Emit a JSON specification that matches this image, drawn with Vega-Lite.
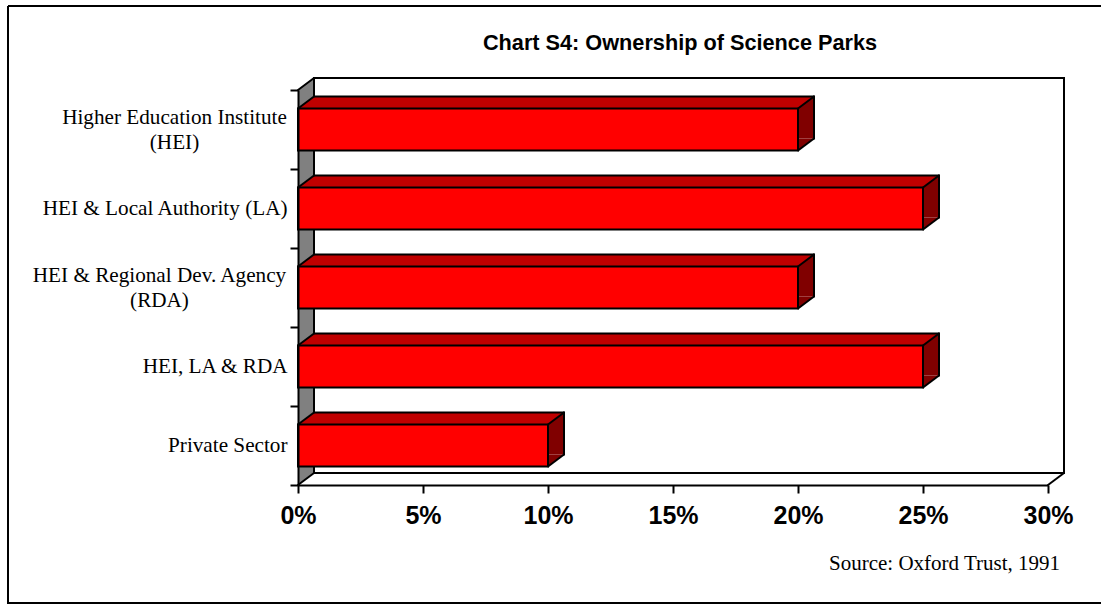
{
  "$schema": "https://vega.github.io/schema/vega-lite/v6.json",
  "width": 1093,
  "height": 597,
  "autosize": {"type": "none"},
  "padding": {"left": 8, "top": 6, "right": 0, "bottom": 3},
  "background": "white",
  "config": {
    "view": {"stroke": "black", "strokeWidth": 2, "strokeDash": [1093, 597, 1690, 0], "fill": "white"},
    "axis": {"grid": false}
  },
  "data": {
    "values": [
      {"owner": "Higher Education Institute (HEI)", "share": 20},
      {"owner": "HEI & Local Authority (LA)", "share": 25},
      {"owner": "HEI & Regional Dev. Agency (RDA)", "share": 20},
      {"owner": "HEI, LA & RDA", "share": 25},
      {"owner": "Private Sector", "share": 10}
    ]
  },
  "resolve": {"scale": {"y": "independent"}},
  "layer": [
    {
      "data": {"values": [{}]},
      "layer": [
        {
          "mark": {"type": "rect", "fill": "white", "stroke": "black", "strokeWidth": 2, "opacity": 1,
                   "xOffset": 16, "x2Offset": 16, "yOffset": -12, "y2Offset": -12},
          "encoding": {
            "x": {
              "datum": 0,
              "type": "quantitative",
              "scale": {"domain": [0, 30], "range": [290, 1040], "nice": false, "zero": false},
              "axis": {
                "orient": "bottom",
                "offset": -118,
                "zindex": 1,
                "values": [0, 5, 10, 15, 20, 25, 30],
                "labelExpr": "datum.value + '%'",
                "domainColor": "black",
                "domainWidth": 2,
                "tickColor": "black",
                "tickWidth": 2,
                "tickSize": 8,
                "labelFont": "Liberation Sans",
                "labelFontSize": 25,
                "labelFontWeight": "bold",
                "labelColor": "black",
                "labelPadding": 10,
                "labelFlush": false,
                "labelOverlap": false,
                "title": null
              }
            },
            "x2": {"datum": 30},
            "y": {"datum": 0, "type": "quantitative", "scale": {"domain": [0, 1], "range": [479, 84], "nice": false, "zero": false}, "axis": null},
            "y2": {"datum": 1}
          }
        },
        {
          "mark": {"type": "rect", "fill": "#808080", "strokeWidth": 0, "opacity": 1, "x2Offset": 15, "y2Offset": -12},
          "encoding": {
            "x": {"datum": 0, "type": "quantitative"},
            "x2": {"datum": 0},
            "y": {"datum": 0, "type": "quantitative", "axis": null},
            "y2": {"datum": 1}
          }
        },
        {
          "mark": {"type": "point", "shape": "M -1 0.75 L -1 -0.75 L 1 -0.75 Z", "size": 256, "filled": true,
                   "fill": "white", "strokeWidth": 0, "opacity": 1, "xOffset": 8, "yOffset": -6},
          "encoding": {
            "x": {"datum": 0, "type": "quantitative"},
            "y": {"datum": 1, "type": "quantitative", "axis": null}
          }
        },
        {
          "mark": {"type": "point", "shape": "M -1 0.75 L 1 -0.75 L 1 0.75 Z", "size": 256, "filled": true,
                   "fill": "white", "strokeWidth": 0, "opacity": 1, "xOffset": 8, "yOffset": -6},
          "encoding": {
            "x": {"datum": 0, "type": "quantitative"},
            "y": {"datum": 0, "type": "quantitative", "axis": null}
          }
        },
        {
          "mark": {"type": "rule", "color": "black", "strokeWidth": 2, "strokeCap": "round", "opacity": 1, "x2Offset": 16, "y2Offset": -12},
          "encoding": {
            "x": {"datum": 0, "type": "quantitative"},
            "x2": {"datum": 0},
            "y": {"datum": 1, "type": "quantitative", "axis": null},
            "y2": {"datum": 1}
          }
        },
        {
          "mark": {"type": "rule", "color": "black", "strokeWidth": 2, "strokeCap": "round", "opacity": 1, "x2Offset": 16, "y2Offset": -12},
          "encoding": {
            "x": {"datum": 0, "type": "quantitative"},
            "x2": {"datum": 0},
            "y": {"datum": 0, "type": "quantitative", "axis": null},
            "y2": {"datum": 0}
          }
        },
        {
          "mark": {"type": "rule", "color": "black", "strokeWidth": 2, "strokeCap": "round", "opacity": 1, "x2Offset": 16, "y2Offset": -12},
          "encoding": {
            "x": {"datum": 30, "type": "quantitative"},
            "x2": {"datum": 30},
            "y": {"datum": 0, "type": "quantitative", "axis": null},
            "y2": {"datum": 0}
          }
        },
        {
          "mark": {"type": "text", "font": "Liberation Sans", "fontSize": 21.7, "fontWeight": "bold", "color": "black",
                   "align": "center", "baseline": "alphabetic", "xOffset": 7, "yOffset": -40},
          "encoding": {
            "x": {"datum": 15, "type": "quantitative"},
            "y": {"datum": 1, "type": "quantitative", "axis": null},
            "text": {"value": "Chart S4: Ownership of Science Parks"}
          }
        },
        {
          "mark": {"type": "text", "font": "Liberation Serif", "fontSize": 21, "color": "black",
                   "align": "right", "baseline": "alphabetic", "xOffset": 12, "yOffset": 85},
          "encoding": {
            "x": {"datum": 30, "type": "quantitative"},
            "y": {"datum": 0, "type": "quantitative", "axis": null},
            "text": {"value": "Source: Oxford Trust, 1991"}
          }
        }
      ]
    },
    {
      "encoding": {
        "y": {
          "field": "owner",
          "type": "nominal",
          "sort": null,
          "scale": {"type": "band", "range": [84, 479], "paddingInner": 0, "paddingOuter": 0},
          "axis": {
            "orient": "left",
            "offset": -290,
            "zindex": 1,
            "title": null,
            "domainColor": "black",
            "domainWidth": 2,
            "tickColor": "black",
            "tickWidth": 2,
            "tickSize": 8,
            "tickBand": "extent",
            "labelFont": "Liberation Serif",
            "labelFontSize": 21.2,
            "labelColor": "black",
            "labelLimit": 400,
            "labelLineHeight": 25,
            "labelOverlap": false,
            "labelExpr": "datum.value === 'Higher Education Institute (HEI)' ? ['Higher Education Institute', '(HEI)'] : datum.value === 'HEI & Regional Dev. Agency (RDA)' ? ['HEI & Regional Dev. Agency', '(RDA)'] : datum.label",
            "labelAlign": {
              "condition": {"test": "datum.value === 'Higher Education Institute (HEI)' || datum.value === 'HEI & Regional Dev. Agency (RDA)'", "value": "center"},
              "value": "right"
            },
            "labelPadding": {
              "condition": [
                {"test": "datum.value === 'Higher Education Institute (HEI)'", "value": 116},
                {"test": "datum.value === 'HEI & Regional Dev. Agency (RDA)'", "value": 131}
              ],
              "value": 3
            },
            "labelOffset": {
              "condition": {"test": "datum.value === 'Higher Education Institute (HEI)' || datum.value === 'HEI & Regional Dev. Agency (RDA)'", "value": -12.5},
              "value": 0
            }
          }
        }
      },
      "layer": [
        {
          "mark": {"type": "bar", "color": "#c00000", "opacity": 1, "height": 12, "yOffset": -27, "xOffset": 1, "x2Offset": 15},
          "encoding": {
            "x": {"field": "share", "type": "quantitative"},
            "x2": {"datum": 0}
          }
        },
        {
          "mark": {"type": "bar", "color": "#800000", "opacity": 1, "height": 42, "yOffset": -12, "x2Offset": 16},
          "encoding": {
            "x": {"field": "share", "type": "quantitative"},
            "x2": {"field": "share"}
          }
        },
        {
          "mark": {"type": "point", "shape": "M -1 0.75 L 1 -0.75 L 1 0.75 Z", "size": 256, "filled": true,
                   "fill": "#c00000", "strokeWidth": 0, "opacity": 1, "xOffset": 8, "yOffset": -27},
          "encoding": {
            "x": {"datum": 0, "type": "quantitative"}
          }
        },
        {
          "mark": {"type": "point", "shape": "M -1 0.75 L -1 -0.75 L 1 -0.75 Z", "size": 256, "filled": true,
                   "fill": "#c00000", "strokeWidth": 0, "opacity": 1, "xOffset": 8, "yOffset": -27},
          "encoding": {
            "x": {"field": "share", "type": "quantitative"}
          }
        },
        {
          "mark": {"type": "point", "shape": "M -1 0.75 L -1 -0.75 L 1 -0.75 Z", "size": 256, "filled": true,
                   "fill": "#800000", "strokeWidth": 0, "opacity": 1, "xOffset": 8, "yOffset": 15},
          "encoding": {
            "x": {"field": "share", "type": "quantitative"}
          }
        },
        {
          "mark": {"type": "bar", "color": "#ff0000", "opacity": 1, "height": 42, "stroke": "black", "strokeWidth": 2},
          "encoding": {
            "x": {"field": "share", "type": "quantitative"},
            "x2": {"datum": 0}
          }
        },
        {
          "mark": {"type": "rule", "color": "black", "strokeWidth": 2, "strokeCap": "round", "opacity": 1, "xOffset": 16, "x2Offset": 16, "yOffset": -33},
          "encoding": {
            "x": {"field": "share", "type": "quantitative"},
            "x2": {"datum": 0}
          }
        },
        {
          "mark": {"type": "rule", "color": "black", "strokeWidth": 2, "strokeCap": "round", "opacity": 1, "x2Offset": 16, "yOffset": -21, "y2Offset": -33},
          "encoding": {
            "x": {"field": "share", "type": "quantitative"},
            "x2": {"field": "share"},
            "y2": {"field": "owner"}
          }
        },
        {
          "mark": {"type": "rule", "color": "black", "strokeWidth": 2, "strokeCap": "round", "opacity": 1, "xOffset": 16, "yOffset": -33, "y2Offset": 9},
          "encoding": {
            "x": {"field": "share", "type": "quantitative"},
            "y2": {"field": "owner"}
          }
        },
        {
          "mark": {"type": "rule", "color": "black", "strokeWidth": 2, "strokeCap": "round", "opacity": 1, "x2Offset": 16, "yOffset": 21, "y2Offset": 9},
          "encoding": {
            "x": {"field": "share", "type": "quantitative"},
            "x2": {"field": "share"},
            "y2": {"field": "owner"}
          }
        },
        {
          "mark": {"type": "rule", "color": "black", "strokeWidth": 2, "strokeCap": "round", "opacity": 1, "x2Offset": 16, "yOffset": -21, "y2Offset": -33},
          "encoding": {
            "x": {"datum": 0, "type": "quantitative"},
            "x2": {"datum": 0},
            "y2": {"field": "owner"}
          }
        }
      ]
    }
  ]
}
